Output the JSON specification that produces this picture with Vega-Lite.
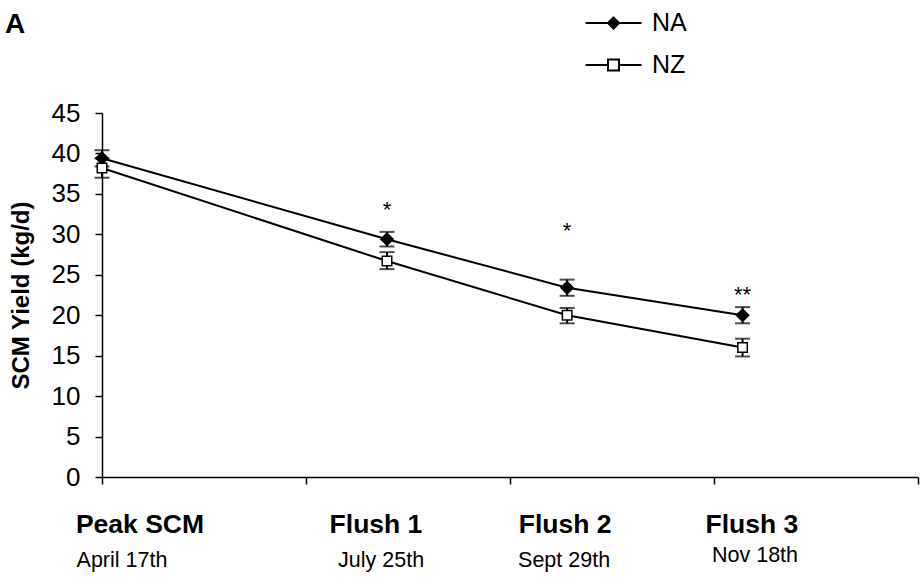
{
  "$schema": "https://vega.github.io/schema/vega-lite/v6.json",
  "width": 816,
  "height": 364,
  "autosize": {"type": "none"},
  "padding": {"left": 102, "top": 113, "right": 3, "bottom": 108},
  "background": "white",
  "config": {"view": {"stroke": null}, "font": "Liberation Sans"},
  "title": {"text": "A", "anchor": "start", "frame": "group", "fontSize": 28, "fontWeight": "bold", "color": "black", "font": "Liberation Sans", "dx": -97, "dy": 28, "offset": 0},
  "datasets": {
    "pts": [
      {"stage": "Peak SCM", "pos": 0, "series": "NA", "mean": 39.4, "lo": 38.4, "hi": 40.4},
      {"stage": "Peak SCM", "pos": 0, "series": "NZ", "mean": 38.2, "lo": 37.0, "hi": 39.4},
      {"stage": "Flush 1", "pos": 1.397, "series": "NA", "mean": 29.4, "lo": 28.5, "hi": 30.3},
      {"stage": "Flush 1", "pos": 1.397, "series": "NZ", "mean": 26.7, "lo": 25.7, "hi": 27.8},
      {"stage": "Flush 2", "pos": 2.28, "series": "NA", "mean": 23.4, "lo": 22.4, "hi": 24.4},
      {"stage": "Flush 2", "pos": 2.28, "series": "NZ", "mean": 20.0, "lo": 19.0, "hi": 20.9},
      {"stage": "Flush 3", "pos": 3.14, "series": "NA", "mean": 20.0, "lo": 19.0, "hi": 21.0},
      {"stage": "Flush 3", "pos": 3.14, "series": "NZ", "mean": 16.0, "lo": 14.9, "hi": 17.1}
    ],
    "stages": [
      {"stage": "Peak SCM", "date": "April 17th", "stage_x": 0.186, "stage_y": -6.92, "date_x": 0.098, "date_y": -11.13},
      {"stage": "Flush 1", "date": "July 25th", "stage_x": 1.343, "stage_y": -6.92, "date_x": 1.368, "date_y": -11.13},
      {"stage": "Flush 2", "date": "Sept 29th", "stage_x": 2.27, "stage_y": -6.92, "date_x": 2.265, "date_y": -11.13},
      {"stage": "Flush 3", "date": "Nov 18th", "stage_x": 3.186, "stage_y": -6.92, "date_x": 3.201, "date_y": -10.5}
    ],
    "sig": [
      {"sig": "*", "pos": 1.397, "sig_y": 32.1},
      {"sig": "*", "pos": 2.28, "sig_y": 29.5},
      {"sig": "**", "pos": 3.14, "sig_y": 21.6}
    ]
  },
  "layer": [
    {
      "data": {"name": "pts"},
      "mark": {"type": "line", "strokeWidth": 2},
      "encoding": {
        "x": {"field": "pos", "type": "quantitative", "title": null,
          "scale": {"domain": [0, 4], "nice": false, "zero": false},
          "axis": {"values": [0, 1, 2, 3, 4], "labels": false, "grid": false, "tickSize": 7, "tickColor": "black", "tickWidth": 1.5, "domainColor": "black", "domainWidth": 1.5}},
        "y": {"field": "mean", "type": "quantitative", "title": "SCM Yield (kg/d)",
          "scale": {"domain": [0, 45], "nice": false},
          "axis": {"values": [0, 5, 10, 15, 20, 25, 30, 35, 40, 45], "grid": false, "tickSize": 7, "tickColor": "black", "tickWidth": 1.5, "domainColor": "black", "domainWidth": 1.5,
            "labelFontSize": 26, "labelColor": "black", "labelFont": "Liberation Sans", "labelPadding": 15,
            "titleFontSize": 24, "titleFontWeight": "bold", "titleColor": "black", "titleFont": "Liberation Sans", "titlePadding": 18}},
        "color": {"field": "series", "type": "nominal",
          "scale": {"domain": ["NA", "NZ"], "range": ["black", "black"]},
          "legend": {"orient": "none", "legendX": 499, "legendY": -102.5, "title": null, "padding": 0,
            "labelFontSize": 25, "labelColor": "black", "labelFont": "Liberation Sans", "labelOffset": 26,
            "symbolSize": 400, "rowPadding": 16, "symbolStrokeWidth": 2,
            "encode": {"symbols": {"update": {
              "shape": {"signal": "datum.value === 'NA' ? 'M-2.8,0L2.8,0M0,-0.55L0.55,0L0,0.55L-0.55,0Z' : 'M-2.8,0L-0.55,0M0.55,0L2.8,0M-0.55,-0.55L0.55,-0.55L0.55,0.55L-0.55,0.55Z'"},
              "fill": {"signal": "datum.value === 'NA' ? 'black' : 'white'"},
              "stroke": {"value": "black"},
              "strokeWidth": {"value": 2},
              "opacity": {"value": 1}
            }}}}},
        "order": {"field": "pos"}
      }
    },
    {
      "data": {"name": "pts"},
      "mark": {"type": "errorbar", "color": "black", "thickness": 2, "ticks": {"size": 15, "thickness": 2, "color": "black"}},
      "encoding": {
        "x": {"field": "pos", "type": "quantitative", "title": null},
        "y": {"field": "lo", "type": "quantitative", "title": "SCM Yield (kg/d)"},
        "y2": {"field": "hi"},
        "detail": {"field": "series"}
      }
    },
    {
      "data": {"name": "pts"},
      "transform": [{"filter": "datum.series === 'NA'"}],
      "mark": {"type": "point", "shape": "diamond", "size": 150, "filled": true, "fill": "black", "stroke": "black", "strokeWidth": 1.5, "opacity": 1},
      "encoding": {
        "x": {"field": "pos", "type": "quantitative", "title": null},
        "y": {"field": "mean", "type": "quantitative", "title": "SCM Yield (kg/d)"}
      }
    },
    {
      "data": {"name": "pts"},
      "transform": [{"filter": "datum.series === 'NZ'"}],
      "mark": {"type": "point", "shape": "square", "size": 90, "filled": true, "fill": "white", "stroke": "black", "strokeWidth": 1.5, "opacity": 1},
      "encoding": {
        "x": {"field": "pos", "type": "quantitative", "title": null},
        "y": {"field": "mean", "type": "quantitative", "title": "SCM Yield (kg/d)"}
      }
    },
    {
      "data": {"name": "sig"},
      "mark": {"type": "text", "fontSize": 22, "baseline": "alphabetic", "align": "center", "color": "black", "font": "Liberation Sans"},
      "encoding": {
        "x": {"field": "pos", "type": "quantitative", "title": null},
        "y": {"field": "sig_y", "type": "quantitative", "title": "SCM Yield (kg/d)"},
        "text": {"field": "sig"}
      }
    },
    {
      "data": {"name": "stages"},
      "mark": {"type": "text", "fontSize": 26.5, "fontWeight": "bold", "baseline": "alphabetic", "align": "center", "color": "black", "font": "Liberation Sans"},
      "encoding": {
        "x": {"field": "stage_x", "type": "quantitative", "title": null},
        "y": {"field": "stage_y", "type": "quantitative", "title": "SCM Yield (kg/d)"},
        "text": {"field": "stage"}
      }
    },
    {
      "data": {"name": "stages"},
      "mark": {"type": "text", "fontSize": 21.5, "baseline": "alphabetic", "align": "center", "color": "black", "font": "Liberation Sans"},
      "encoding": {
        "x": {"field": "date_x", "type": "quantitative", "title": null},
        "y": {"field": "date_y", "type": "quantitative", "title": "SCM Yield (kg/d)"},
        "text": {"field": "date"}
      }
    }
  ]
}
